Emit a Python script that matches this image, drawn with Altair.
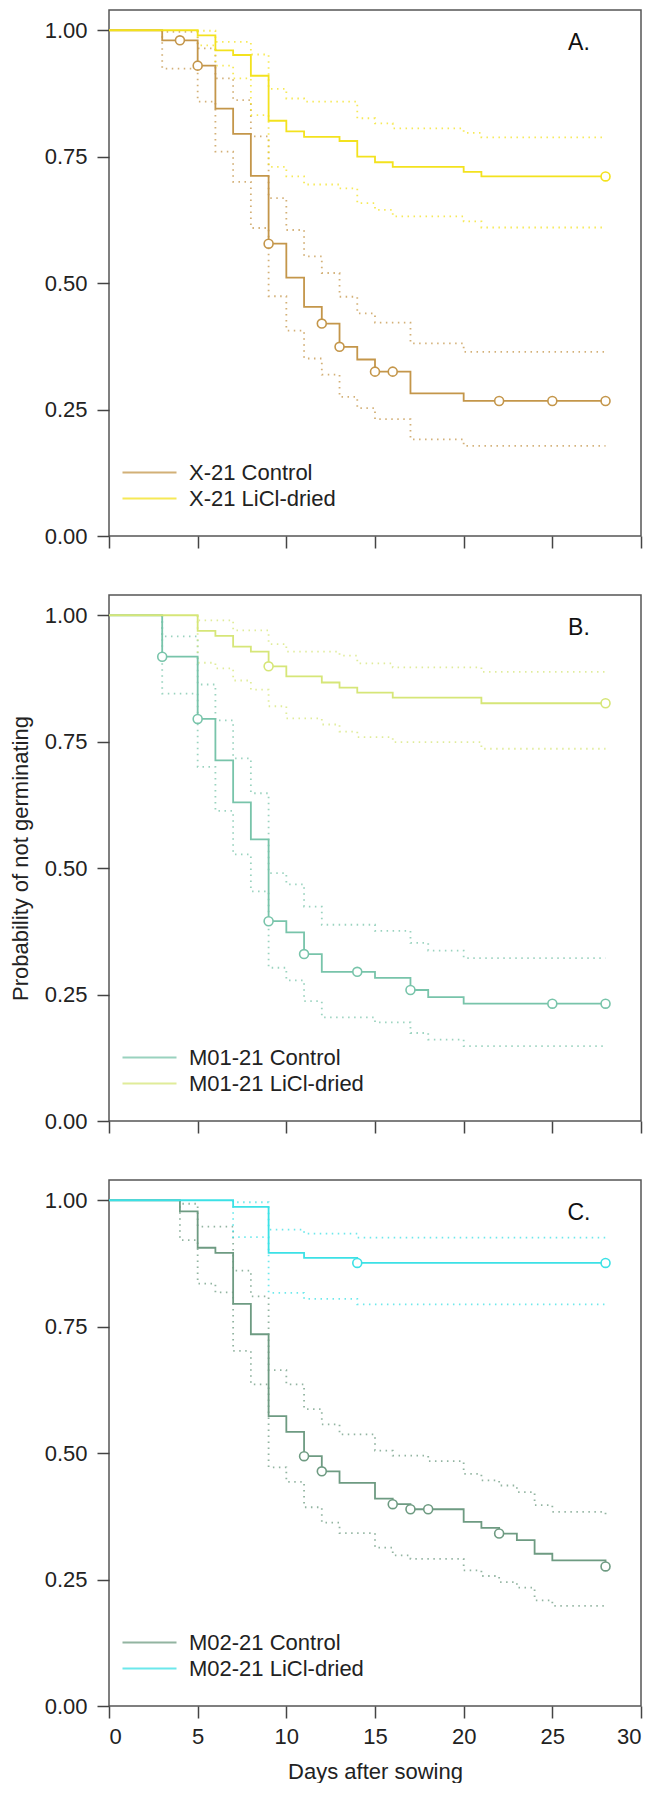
import altair as alt
import pandas as pd

FONT = "Liberation Sans"

# ---------------- data ----------------
# Panel A: X-21
A_names = ["X-21 Control", "X-21 LiCl-dried"]
A_colors = ["#C4964A", "#F3E21E"]
A_ctrl_t = [0, 3, 5, 6, 7, 8, 9, 10, 11, 12, 13, 14, 15, 17, 20, 28]
A_ctrl_s = [1, 0.98, 0.93, 0.845, 0.795, 0.712, 0.578, 0.511, 0.453, 0.42, 0.374, 0.349, 0.325, 0.282, 0.267, 0.267]
A_ctrl_ci_t = [3, 5, 6, 7, 8, 9, 10, 11, 12, 13, 14, 15, 17, 20, 28]
A_ctrl_lo = [0.924, 0.859, 0.76, 0.70, 0.609, 0.474, 0.406, 0.351, 0.319, 0.275, 0.253, 0.231, 0.191, 0.178, 0.178]
A_ctrl_hi = [0.997, 0.964, 0.905, 0.862, 0.79, 0.668, 0.605, 0.553, 0.52, 0.473, 0.44, 0.422, 0.381, 0.364, 0.364]
A_ctrl_cens_t = [4, 5, 9, 12, 13, 15, 16, 22, 25, 28]
A_ctrl_cens_s = [0.98, 0.93, 0.578, 0.42, 0.374, 0.325, 0.325, 0.267, 0.267, 0.267]
A_licl_t = [0, 5, 6, 7, 8, 9, 10, 11, 13, 14, 15, 16, 20, 21, 28]
A_licl_s = [1, 0.99, 0.96, 0.951, 0.91, 0.821, 0.80, 0.789, 0.781, 0.75, 0.739, 0.73, 0.72, 0.711, 0.711]
A_licl_hi_t = [5, 6, 8, 9, 10, 11, 14, 15, 16, 20, 21, 28]
A_licl_hi = [0.999, 0.977, 0.952, 0.884, 0.865, 0.859, 0.826, 0.816, 0.806, 0.797, 0.788, 0.788]
A_licl_lo_t = [5, 6, 7, 8, 9, 10, 11, 13, 14, 15, 16, 20, 21, 28]
A_licl_lo = [0.97, 0.93, 0.905, 0.832, 0.73, 0.711, 0.695, 0.6875, 0.658, 0.645, 0.632, 0.622, 0.61, 0.61]
A_licl_cens_t = [28]
A_licl_cens_s = [0.711]

# Panel B: M01-21
B_names = ["M01-21 Control", "M01-21 LiCl-dried"]
B_colors = ["#78C4AA", "#D6E678"]
B_ctrl_t = [0, 3, 5, 6, 7, 8, 9, 10, 11, 12, 15, 17, 18, 20, 28]
B_ctrl_s = [1, 0.918, 0.795, 0.713, 0.63, 0.557, 0.395, 0.373, 0.330, 0.295, 0.283, 0.259, 0.245, 0.232, 0.232]
B_ctrl_ci_t = [3, 5, 6, 7, 8, 9, 10, 11, 12, 15, 17, 18, 20, 28]
B_ctrl_lo = [0.845, 0.70, 0.613, 0.527, 0.454, 0.303, 0.278, 0.237, 0.205, 0.195, 0.174, 0.161, 0.148, 0.148]
B_ctrl_hi = [0.958, 0.863, 0.792, 0.717, 0.648, 0.49, 0.468, 0.424, 0.388, 0.376, 0.352, 0.337, 0.322, 0.322]
B_ctrl_cens_t = [3, 5, 9, 11, 14, 17, 25, 28]
B_ctrl_cens_s = [0.918, 0.795, 0.395, 0.330, 0.295, 0.259, 0.232, 0.232]
B_licl_t = [0, 5, 6, 7, 8, 9, 10, 12, 13, 14, 16, 21, 28]
B_licl_s = [1, 0.969, 0.959, 0.938, 0.928, 0.899, 0.879, 0.867, 0.857, 0.847, 0.837, 0.826, 0.826]
B_licl_hi_t = [5, 7, 9, 10, 13, 14, 16, 21, 28]
B_licl_hi = [0.99, 0.97, 0.943, 0.928, 0.92, 0.905, 0.897, 0.888, 0.888]
B_licl_lo_t = [5, 6, 7, 8, 9, 10, 12, 13, 14, 16, 21, 28]
B_licl_lo = [0.906, 0.895, 0.871, 0.853, 0.82, 0.796, 0.784, 0.77, 0.759, 0.749, 0.736, 0.736]
B_licl_cens_t = [9, 28]
B_licl_cens_s = [0.899, 0.826]

# Panel C: M02-21
C_names = ["M02-21 Control", "M02-21 LiCl-dried"]
C_colors = ["#6E9B82", "#3CE1E6"]
C_ctrl_t = [0, 4, 5, 6, 7, 8, 9, 10, 11, 12, 13, 15, 16, 17, 20, 21, 22, 23, 24, 25, 28]
C_ctrl_s = [1, 0.978, 0.906, 0.896, 0.795, 0.735, 0.573, 0.542, 0.494, 0.464, 0.441, 0.41, 0.399, 0.389,
            0.364, 0.352, 0.341, 0.328, 0.301, 0.288, 0.276]
C_ctrl_hi_t = [4, 5, 7, 8, 9, 10, 11, 12, 13, 15, 16, 18, 20, 21, 22, 23, 24, 25, 28]
C_ctrl_hi = [0.993, 0.948, 0.861, 0.81, 0.664, 0.636, 0.587, 0.557, 0.537, 0.505, 0.495, 0.484, 0.459,
             0.446, 0.436, 0.423, 0.397, 0.384, 0.377]
C_ctrl_lo_t = [4, 5, 6, 7, 8, 9, 10, 11, 12, 13, 15, 16, 17, 20, 21, 22, 23, 24, 25, 28]
C_ctrl_lo = [0.921, 0.835, 0.818, 0.702, 0.636, 0.472, 0.443, 0.393, 0.3625, 0.342, 0.313, 0.298, 0.291,
             0.268, 0.257, 0.245, 0.234, 0.209, 0.198, 0.198]
C_ctrl_cens_t = [11, 12, 16, 17, 18, 22, 28]
C_ctrl_cens_s = [0.494, 0.464, 0.399, 0.389, 0.389, 0.341, 0.276]
C_licl_t = [0, 7, 9, 11, 14, 28]
C_licl_s = [1, 0.987, 0.896, 0.886, 0.876, 0.876]
C_licl_ci_t = [7, 9, 11, 14, 28]
C_licl_hi = [0.996, 0.942, 0.934, 0.926, 0.926]
C_licl_lo = [0.927, 0.817, 0.805, 0.794, 0.794]
C_licl_cens_t = [14, 28]
C_licl_cens_s = [0.876, 0.876]

x_ticks = [0, 5, 10, 15, 20, 25, 30]
y_ticks = [0, 0.25, 0.5, 0.75, 1.0]
panel_labels = ["A.", "B.", "C."]

# legend swatch: a long horizontal stroke (wider than tall)
LEGEND_SWATCH = "M-2,0L2,0"


def ci_frame(name, kind, t, v):
    # CI line starts at 1.0 at its first time, then steps
    rows = [{"series": name, "kind": kind, "day": t[0], "value": 1.0}]
    rows += [{"series": name, "kind": kind, "day": a, "value": b} for a, b in zip(t, v)]
    return rows


def make_panel(names, colors, ctrl, licl, label, show_x, y_title):
    est_rows, ci_rows, cens_rows = [], [], []
    for name, d in zip(names, [ctrl, licl]):
        est_rows += [{"series": name, "day": a, "value": b} for a, b in zip(d["t"], d["s"])]
        ci_rows += ci_frame(name, "lo", d["lo_t"], d["lo"])
        ci_rows += ci_frame(name, "hi", d["hi_t"], d["hi"])
        cens_rows += [{"series": name, "day": a, "value": b} for a, b in zip(d["ct"], d["cs"])]
    est = pd.DataFrame(est_rows)
    ci = pd.DataFrame(ci_rows)
    cens = pd.DataFrame(cens_rows)

    xenc = alt.X("day:Q",
                 scale=alt.Scale(domain=[0, 30], nice=False, zero=False),
                 axis=alt.Axis(values=x_ticks, labels=show_x, title="Days after sowing" if show_x else None,
                               tickSize=12, domain=False, grid=False, labelPadding=8, titlePadding=14))
    yenc = alt.Y("value:Q",
                 scale=alt.Scale(domain=[0, 1.04], nice=False, zero=False),
                 axis=alt.Axis(values=y_ticks, format=".2f", tickSize=12, domain=False, grid=False,
                               labelPadding=10, title=y_title, titlePadding=12))
    color = alt.Color("series:N",
                      scale=alt.Scale(domain=names, range=colors),
                      legend=alt.Legend(title=None, orient="none", legendX=26, legendY=448,
                                        symbolType=LEGEND_SWATCH, symbolSize=729, symbolStrokeWidth=1.8,
                                        symbolFillColor="transparent",
                                        labelFontSize=22, labelFont=FONT, labelColor="#222",
                                        labelLimit=0, labelOffset=25, rowPadding=0, padding=0))

    ci_layer = alt.Chart(ci).mark_line(interpolate="step-after", strokeDash=[1.5, 4.5], strokeWidth=1.8,
                                       opacity=0.75).encode(
        x=xenc, y=yenc, color=color, detail="kind:N")
    est_layer = alt.Chart(est).mark_line(interpolate="step-after", strokeWidth=1.8).encode(
        x=xenc, y=yenc, color=color)
    cens_layer = alt.Chart(cens).mark_point(shape="circle", filled=False, fill="white", fillOpacity=1,
                                            size=80, strokeWidth=1.6, opacity=1).encode(
        x=xenc, y=yenc, color=color)
    lab_layer = alt.Chart(pd.DataFrame({"lab": [label]})).mark_text(
        font=FONT, fontSize=23, color="#111", align="center", baseline="middle").encode(
        x=alt.datum(26.5), y=alt.datum(0.975), text="lab:N")

    return alt.layer(ci_layer, est_layer, cens_layer, lab_layer).properties(width=532, height=526)


def pack(t, s, lo_t, lo, hi_t, hi, ct, cs):
    return {"t": t, "s": s, "lo_t": lo_t, "lo": lo, "hi_t": hi_t, "hi": hi, "ct": ct, "cs": cs}


pA = make_panel(A_names, A_colors,
                pack(A_ctrl_t, A_ctrl_s, A_ctrl_ci_t, A_ctrl_lo, A_ctrl_ci_t, A_ctrl_hi, A_ctrl_cens_t, A_ctrl_cens_s),
                pack(A_licl_t, A_licl_s, A_licl_lo_t, A_licl_lo, A_licl_hi_t, A_licl_hi, A_licl_cens_t, A_licl_cens_s),
                panel_labels[0], False, None)
pB = make_panel(B_names, B_colors,
                pack(B_ctrl_t, B_ctrl_s, B_ctrl_ci_t, B_ctrl_lo, B_ctrl_ci_t, B_ctrl_hi, B_ctrl_cens_t, B_ctrl_cens_s),
                pack(B_licl_t, B_licl_s, B_licl_lo_t, B_licl_lo, B_licl_hi_t, B_licl_hi, B_licl_cens_t, B_licl_cens_s),
                panel_labels[1], False, "Probability of not germinating")
pC = make_panel(C_names, C_colors,
                pack(C_ctrl_t, C_ctrl_s, C_ctrl_lo_t, C_ctrl_lo, C_ctrl_hi_t, C_ctrl_hi, C_ctrl_cens_t, C_ctrl_cens_s),
                pack(C_licl_t, C_licl_s, C_licl_ci_t, C_licl_lo, C_licl_ci_t, C_licl_hi, C_licl_cens_t, C_licl_cens_s),
                panel_labels[2], True, None)

chart = alt.vconcat(pA, pB, pC, spacing=44).resolve_scale(color="independent").resolve_legend(
    color="independent").properties(
    padding={"left": 0, "top": 1, "right": 5, "bottom": 0}, background="white"
).configure_view(stroke="#555", strokeWidth=1.5).configure_axis(
    labelFont=FONT, labelFontSize=22, labelColor="#222", tickColor="#444", tickWidth=1.5,
    titleFont=FONT, titleFontSize=22, titleColor="#222", titleFontWeight="normal"
)

chart.save("out.html", embed_options={"renderer": "svg", "actions": False})
